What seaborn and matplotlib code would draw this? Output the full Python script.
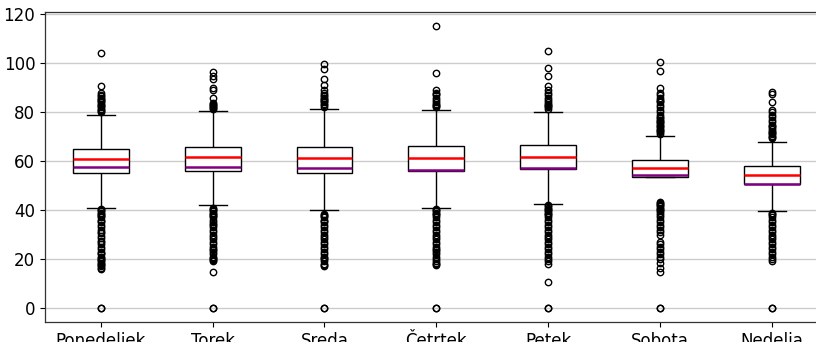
import numpy as np
import pandas as pd
import matplotlib
matplotlib.use("Agg")
import matplotlib.pyplot as plt
import seaborn as sns

# Days of the week
days = ["Ponedeljek", "Torek", "Sreda", "Četrtek", "Petek", "Sobota", "Nedelja"]

# Box summary per day
q1 = [55.3, 56.1, 55.1, 56.0, 57.0, 53.7, 50.5]
median = [60.8, 61.6, 61.4, 61.4, 61.9, 57.3, 54.2]
q3 = [65.1, 66.0, 65.9, 66.2, 66.7, 60.5, 58.0]
whisker_low = [41.0, 41.9, 39.9, 41.0, 42.6, 43.5, 39.6]
whisker_high = [78.9, 80.4, 81.2, 81.0, 80.3, 70.4, 67.9]
mean = [57.8, 57.8, 57.1, 56.6, 57.4, 54.2, 50.8]

# Outlying observations per day
outliers_high = [
    [80, 80.5, 81, 81.5, 82, 82.5, 83, 83.5, 84, 84.5, 85, 85.5, 86, 86.5, 87, 88, 90.8, 104.4],
    [81.2, 81.6, 82, 82.4, 82.8, 83.2, 83.8, 85.7, 89, 90, 93.6, 95, 96.3],
    [82.3, 82.8, 83.3, 84, 84.5, 85, 85.5, 86, 86.5, 87, 88, 89, 91.3, 93.8, 97.7, 99.9],
    [82, 82.5, 83, 83.5, 84, 85, 86, 87, 87.5, 88, 89, 95.9, 115.1],
    [81.5, 82, 82.5, 83, 83.5, 84, 85, 86, 87, 88, 89, 90.6, 94.7, 98.1, 104.9],
    [71.3, 71.8, 72.3, 72.8, 73.3, 74, 74.5, 75, 75.5, 76, 76.5, 77, 77.5, 78, 79, 80,
     81, 82, 83, 84, 84.5, 85, 86, 87, 88, 90, 96.9, 100.4],
    [69.5, 70, 70.5, 71, 71.5, 72, 72.5, 73, 74, 74.5, 75, 76, 77, 78, 79, 80, 81, 84.1, 87.6, 88.3],
]
outliers_low = [
    [0, 0, 16, 16.5, 17, 17.5, 18, 18.5, 19, 19.5, 20, 20.5, 21, 22, 22.5, 23, 24, 25, 26, 27,
     27.5, 28.5, 29.5, 30.5, 31, 32, 33, 34, 35, 35.5, 36, 37, 37.5, 38, 38.5, 39, 39.5, 40, 40.3],
    [0, 0, 14.6, 19, 19.5, 20, 20.5, 21, 22, 23, 23.5, 24, 25, 26, 27, 28, 29, 30, 31, 32, 33,
     34, 34.5, 35, 36, 37, 37.5, 38, 38.5, 39, 39.5, 40, 40.5, 41],
    [0, 0, 17, 17.5, 18, 19, 20, 20.5, 21, 22, 23, 24, 25, 26, 27, 28, 29, 30, 31, 32, 33, 34,
     35, 35.5, 36, 37, 37.5, 38, 38.5],
    [0, 0, 17.5, 18, 18.5, 19, 20, 21, 22, 23, 23.5, 24, 25, 26, 27, 28, 29, 30, 31, 32, 33, 34,
     35, 36, 37, 38, 38.5, 39, 39.5, 40, 40.5],
    [0, 0, 10.6, 18, 19, 20, 21, 22, 23, 24, 25, 26, 27, 28, 29, 30, 31, 32, 33, 34, 35, 36, 37,
     38, 38.5, 39, 39.5, 40, 40.5, 41, 41.5, 42],
    [0, 0, 14.7, 16.5, 18.5, 20, 21, 22, 23, 24, 25, 26, 27, 30, 31, 32, 33, 34, 35, 36, 37, 38,
     39, 39.5, 40, 40.5, 41, 41.5, 42, 42.5, 43],
    [0, 0, 19.1, 20, 21, 22, 23, 24, 25, 26, 27, 28, 29, 30, 31, 32, 33, 34, 35, 36, 37, 38, 38.5, 39],
]

# Long-form sample per day: quartile blocks, whisker ends and outliers
BLOCK = 500
rows = []
for i, day in enumerate(days):
    values = ([whisker_low[i], whisker_high[i]]
              + [q1[i]] * BLOCK + [median[i]] * BLOCK + [q3[i]] * BLOCK
              + outliers_low[i] + outliers_high[i])
    rows.extend((day, v) for v in values)
df = pd.DataFrame(rows, columns=["dan", "vrednost"])

fig = plt.figure(figsize=(8.16, 3.42), dpi=100)
ax = fig.add_axes([45 / 816, 20 / 342, 782.5 / 816, 310 / 342])

sns.boxplot(
    data=df, x="dan", y="vrednost", order=days, ax=ax,
    color="white", linecolor="black", linewidth=1.0, width=0.5, whis=1.5,
    flierprops=dict(marker="o", markerfacecolor="none", markeredgecolor="black",
                    markersize=4.6, markeredgewidth=1.0),
    medianprops=dict(color="red", linewidth=1.8, zorder=4),
)

# Mean line inside each box
xs = np.arange(len(days))
ax.hlines(mean, xs - 0.25, xs + 0.25, colors="purple", linewidth=1.8, zorder=5)

ax.set_xlim(-0.5, len(days) - 0.5)
ax.set_ylim(-5.75, 121)
ax.set_yticks([0, 20, 40, 60, 80, 100, 120])
ax.yaxis.grid(True, color="#cccccc", linewidth=1.0)
ax.xaxis.grid(False)
ax.set_axisbelow(True)
ax.set_xlabel("")
ax.set_ylabel("")
ax.tick_params(axis="both", labelsize=12, colors="black")
for s in ax.spines.values():
    s.set_color("#333333")
    s.set_linewidth(0.9)

fig.savefig("out.png", dpi=100)
